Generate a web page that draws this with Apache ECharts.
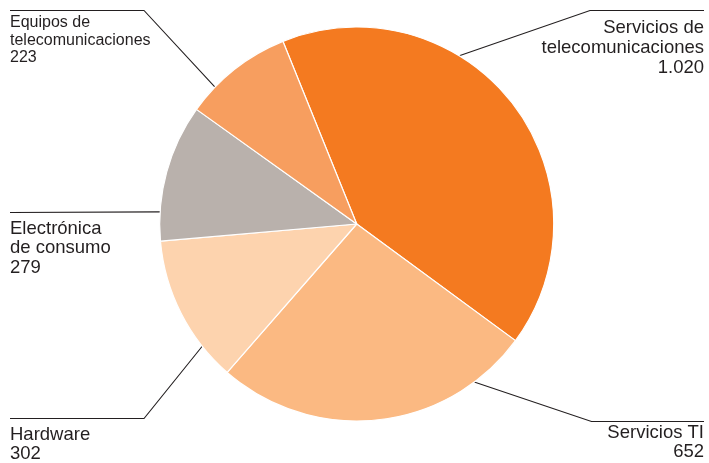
<!DOCTYPE html>
<html>
<head>
<meta charset="utf-8">
<script src="https://cdn.jsdelivr.net/npm/echarts@6/dist/echarts.min.js"></script>
<style>
  html, body { margin: 0; padding: 0; background: #fff; }
  #chart { width: 709px; height: 463px; }
</style>
</head>
<body>
<div id="chart"></div>
<script>
// Market segments (clockwise from the top)
const categories = [
  'Servicios de\ntelecomunicaciones',
  'Servicios TI',
  'Hardware',
  'Electrónica\nde consumo',
  'Equipos de\ntelecomunicaciones'
];
const values = [1020, 652, 302, 279, 223];
const colors = ['#F47A20', '#FBB982', '#FDD3AE', '#B9B1AC', '#F79E5F'];

// Pie geometry
const CX = 356.7, CY = 224, R = 197;
const START_FROM_TOP = -22;           // degrees, clockwise from 12 o'clock
const INK = '#231F20';
const FONT = 'Liberation Sans, Arial, Helvetica, sans-serif';

// Label blocks and their leader lines; anchor = fraction along the slice where the leader touches the rim
const labelPlacement = [
  { x: 704, y: 17.5, align: 'right', elbow: [590, 10.5],    end: 704, anchor: 0.36, size: 18.5, lh: 20 },
  { x: 704, y: 423,  align: 'right', elbow: [591.5, 421.5], end: 704, anchor: 0.18, size: 18.5, lh: 19.5 },
  { x: 10,  y: 425,  align: 'left',  elbow: [144, 418.5],   end: 10,  anchor: 0.24, size: 18.5, lh: 19 },
  { x: 10,  y: 219,  align: 'left',  elbow: null,           end: 10,  anchor: 0.21, size: 18.5, lh: 19.5 },
  { x: 10,  y: 14,   align: 'left',  elbow: [144, 10.5],    end: 10,  anchor: 0.26, size: 16,   lh: 17.5 }
];

const total = values.reduce((a, b) => a + b, 0);

function formatThousands(v) {
  return String(v).replace(/\B(?=(\d{3})+(?!\d))/g, '.');
}

function rimPoint(i, frac) {
  let before = 0;
  for (let k = 0; k < i; k++) before += values[k];
  const deg = START_FROM_TOP + (before + frac * values[i]) / total * 360;
  const rad = deg * Math.PI / 180;
  return [CX + R * Math.sin(rad), CY - R * Math.cos(rad)];
}

const chart = echarts.init(document.getElementById('chart'), null, { renderer: 'canvas' });

chart.setOption({
  animation: false,
  backgroundColor: '#ffffff',
  series: [{
    type: 'pie',
    center: [CX, CY],
    radius: [0, R],
    startAngle: 90 - START_FROM_TOP,
    clockwise: true,
    avoidLabelOverlap: false,
    silent: true,
    itemStyle: { borderColor: '#ffffff', borderWidth: 1.2 },
    emphasis: { disabled: true },
    label: {
      show: true,
      position: 'outside',
      color: INK,
      fontFamily: FONT,
      formatter: p => categories[p.dataIndex] + '\n' + formatThousands(values[p.dataIndex])
    },
    labelLine: {
      show: true,
      smooth: false,
      lineStyle: { color: INK, width: 1.1 }
    },
    labelLayout: function (p) {
      const L = labelPlacement[p.dataIndex];
      const rim = rimPoint(p.dataIndex, L.anchor);
      const pts = L.elbow
        ? [rim, L.elbow, [L.end, L.elbow[1]]]
        : [rim, [L.end, Math.round(rim[1]) + 0.5]];
      return {
        x: L.x,
        y: L.y,
        align: L.align,
        verticalAlign: 'top',
        labelLinePoints: pts
      };
    },
    data: values.map((v, i) => ({
      name: categories[i],
      value: v,
      itemStyle: { color: colors[i] },
      label: {
        fontSize: labelPlacement[i].size,
        lineHeight: labelPlacement[i].lh,
        align: labelPlacement[i].align
      }
    }))
  }]
});
</script>
</body>
</html>
